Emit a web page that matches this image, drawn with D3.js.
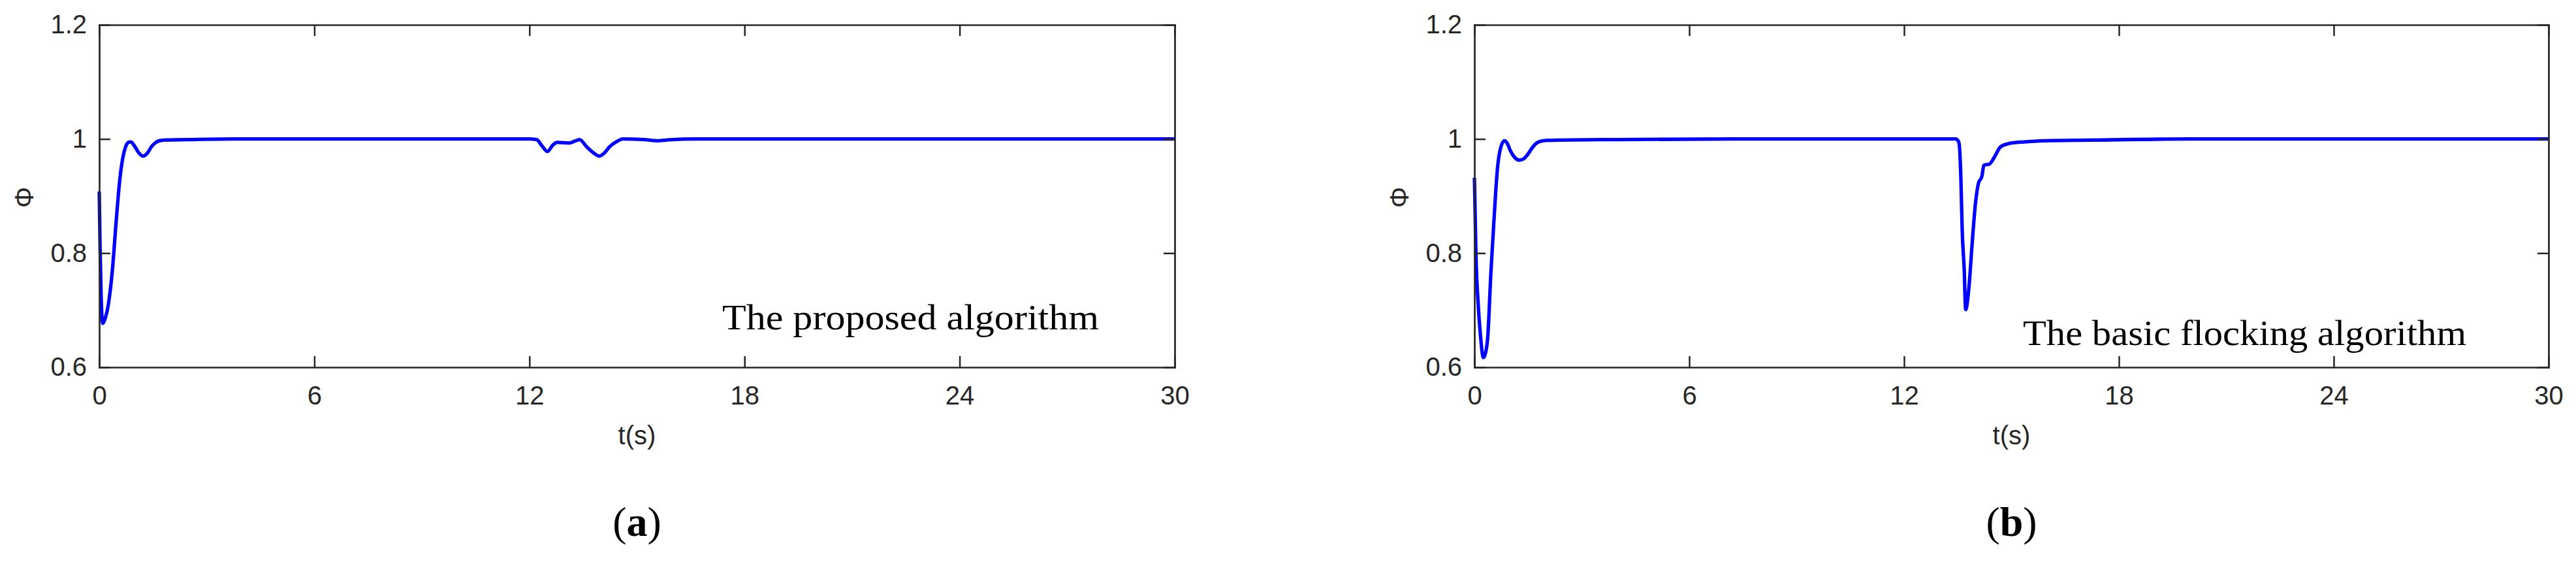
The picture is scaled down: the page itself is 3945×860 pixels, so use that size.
<!DOCTYPE html>
<html><head><meta charset="utf-8">
<script src="https://cdn.jsdelivr.net/npm/d3@7"></script>
<style>
html,body{margin:0;padding:0;background:#fff;}
svg{display:block;}
</style></head>
<body>
<svg id="c" width="3945" height="860"></svg>
<script>
// ---- data ----
const xTicks = [0, 6, 12, 18, 24, 30];
const yTicks = [0.6, 0.8, 1, 1.2];
const yTickLabels = ["0.6", "0.8", "1", "1.2"];
const panelTitles = ["a", "b"];
const annotations = ["The proposed algorithm", "The basic flocking algorithm"];

// (a) proposed algorithm
const tA = [0, 0.02, 0.05, 0.08, 0.1, 0.15, 0.24, 0.36, 0.48, 0.57, 0.66, 0.74, 0.81, 0.88, 1.0, 1.1, 1.22, 1.34, 1.45, 1.56, 1.66, 1.8, 2.09, 2.6, 3.73, 6, 9, 12, 12.2, 12.35, 12.5, 12.65, 12.77, 13.1, 13.3, 13.4, 13.6, 13.8, 13.95, 14.1, 14.23, 14.45, 14.6, 15.2, 15.57, 15.9, 16.6, 20, 25, 30];
const vA = [0.908, 0.82, 0.73, 0.685, 0.677, 0.683, 0.705, 0.766, 0.862, 0.927, 0.968, 0.987, 0.994, 0.995, 0.986, 0.976, 0.970, 0.975, 0.986, 0.993, 0.9966, 0.998, 0.9985, 0.999, 1.0, 1.0, 1.0, 1.0, 0.999, 0.988, 0.978, 0.989, 0.994, 0.993, 0.997, 0.999, 0.986, 0.975, 0.970, 0.976, 0.986, 0.996, 1.0, 0.999, 0.997, 0.9985, 1.0, 1.0, 1.0, 1.0];

// (b) basic flocking algorithm
const tB = [0, 0.02, 0.04, 0.1, 0.17, 0.25, 0.31, 0.37, 0.46, 0.55, 0.64, 0.73, 0.84, 0.92, 1.0, 1.12, 1.25, 1.37, 1.49, 1.62, 1.74, 1.92, 2.4, 4, 7.2, 10, 13.3, 13.45, 13.53, 13.59, 13.62, 13.68, 13.72, 13.81, 13.9, 13.99, 14.08, 14.17, 14.23, 14.38, 14.53, 14.69, 14.93, 15.36, 15.97, 17.2, 20, 25, 30];
const vB = [0.932, 0.87, 0.804, 0.716, 0.655, 0.617, 0.625, 0.651, 0.766, 0.862, 0.946, 0.984, 0.997, 0.992, 0.980, 0.968, 0.963, 0.965, 0.973, 0.985, 0.993, 0.997, 0.998, 0.999, 1.0, 1.0, 1.0, 1.0, 0.994, 0.923, 0.846, 0.770, 0.701, 0.739, 0.816, 0.885, 0.923, 0.934, 0.954, 0.956, 0.969, 0.986, 0.992, 0.995, 0.997, 0.998, 1.0, 1.0, 1.0];

// ---- layout ----
const panels = [
  {x0: 152, x1: 1799, t: tA, v: vA, ann: annotations[0], annX: 1106, annY: 504, annW: 577, title: panelTitles[0]},
  {x0: 2258, x1: 3903, t: tB, v: vB, ann: annotations[1], annX: 3098, annY: 528, annW: 679, title: panelTitles[1]}
];
const yTop = 38, yBot = 562;
const axisColor = "#262626";
const svg = d3.select("#c");

panels.forEach(p => {
  const x = d3.scaleLinear().domain([0, 30]).range([p.x0, p.x1]);
  const y = d3.scaleLinear().domain([0.6, 1.2]).range([yBot, yTop]);
  const g = svg.append("g");

  // line
  const data = p.t.map((t, i) => [t, p.v[i]]);
  g.append("path").datum(data)
    .attr("fill", "none").attr("stroke", "#0000ff").attr("stroke-width", 5.3)
    .attr("stroke-linejoin", "round")
    .attr("d", d3.line().x(d => x(d[0])).y(d => y(d[1])).curve(d3.curveMonotoneX));

  const fmtY = d => yTickLabels[yTicks.indexOf(d)];
  const styleAxis = sel => {
    sel.selectAll("path.domain").attr("stroke", axisColor).attr("stroke-width", 2.7);
    sel.selectAll(".tick line").attr("stroke", axisColor).attr("stroke-width", 2.5);
    sel.selectAll("text").attr("fill", axisColor).attr("font-family", "Liberation Sans, Arial, sans-serif").attr("font-size", 40);
  };
  g.append("g").attr("transform", `translate(0,${yBot})`)
    .call(d3.axisBottom(x).tickValues(xTicks).tickSizeInner(-17).tickSizeOuter(0).tickPadding(29).tickFormat(d3.format("d")))
    .call(styleAxis);
  g.append("g").attr("transform", `translate(0,${yTop})`)
    .call(d3.axisTop(x).tickValues(xTicks).tickSizeInner(-17).tickSizeOuter(0).tickFormat(""))
    .call(styleAxis);
  g.append("g").attr("transform", `translate(${p.x0},0)`)
    .call(d3.axisLeft(y).tickValues(yTicks).tickSizeInner(-17).tickSizeOuter(0).tickPadding(19).tickFormat(fmtY))
    .call(styleAxis);
  g.append("g").attr("transform", `translate(${p.x1},0)`)
    .call(d3.axisRight(y).tickValues(yTicks).tickSizeInner(-17).tickSizeOuter(0).tickFormat(""))
    .call(styleAxis);
  g.selectAll(".domain").attr("stroke-linecap", "square");

  // y label
  g.append("text").attr("transform", `translate(${p.x0 - 115},302) rotate(-90)`)
    .attr("text-anchor", "middle").attr("dy", "0.35em")
    .attr("font-family", "Liberation Sans, Arial, sans-serif").attr("font-size", 40).attr("fill", axisColor)
    .text("Φ");
  // x label
  const cx = (p.x0 + p.x1) / 2;
  g.append("text").attr("x", cx).attr("y", 680).attr("text-anchor", "middle")
    .attr("font-family", "Liberation Sans, Arial, sans-serif").attr("font-size", 40).attr("fill", axisColor)
    .text("t(s)");
  // annotation
  g.append("text").attr("x", p.annX).attr("y", p.annY)
    .attr("font-family", "Liberation Serif, Times New Roman, serif").attr("font-size", 54).attr("fill", "#000")
    .attr("textLength", p.annW).attr("lengthAdjust", "spacingAndGlyphs")
    .text(p.ann);
  // panel title
  const tt = g.append("text").attr("x", cx).attr("y", 820).attr("text-anchor", "middle")
    .attr("font-family", "Liberation Serif, Times New Roman, serif").attr("font-size", 64).attr("fill", "#000");
  tt.append("tspan").text("(");
  tt.append("tspan").attr("font-weight", "bold").text(p.title);
  tt.append("tspan").text(")");
});
</script>
</body></html>
